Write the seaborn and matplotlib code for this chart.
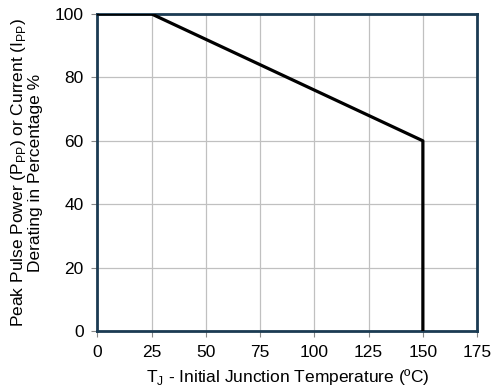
import seaborn as sns
import pandas as pd
from matplotlib import pyplot as plt

temp_c = [0, 25, 150, 150]
derating_pct = [100, 100, 60, 0]
x_ticks = [0, 25, 50, 75, 100, 125, 150, 175]
y_ticks = [0, 20, 40, 60, 80, 100]

df = pd.DataFrame({"temp": temp_c, "pct": derating_pct})

sns.set_style("white")
plt.rcParams["font.family"] = ["Liberation Sans", "DejaVu Sans"]
plt.rcParams["mathtext.fontset"] = "custom"
plt.rcParams["mathtext.rm"] = "Liberation Sans"

fig, ax = plt.subplots(figsize=(4.97, 3.89), dpi=100)
fig.subplots_adjust(left=0.196, right=0.96, top=0.964, bottom=0.149)

sns.lineplot(data=df, x="temp", y="pct", sort=False, estimator=None,
             color="black", linewidth=2.3, ax=ax, zorder=3)

ax.set_xlim(0, 175)
ax.set_ylim(0, 100)
ax.set_xticks(x_ticks)
ax.set_yticks(y_ticks)
ax.grid(True, color="#c0c0c0", linewidth=0.9)
for s in ax.spines.values():
    s.set_color("#1b3b53")
    s.set_linewidth(2)
    s.set_visible(True)
ax.tick_params(axis="both", direction="out", length=4, width=0.8,
               color="#888888", labelcolor="black", labelsize=12.5, pad=6,
               bottom=True, left=True)
ax.set_xlabel(r"T$_\mathregular{J}$ - Initial Junction Temperature (ºC)",
              fontsize=12.5, labelpad=5, color="black")
ax.set_ylabel("Peak Pulse Power (P$_\\mathregular{PP}$) or Current (I$_\\mathregular{PP}$)\nDerating in Percentage %",
              fontsize=12.5, linespacing=1.05, labelpad=8, color="black")

plt.savefig("out.png")
